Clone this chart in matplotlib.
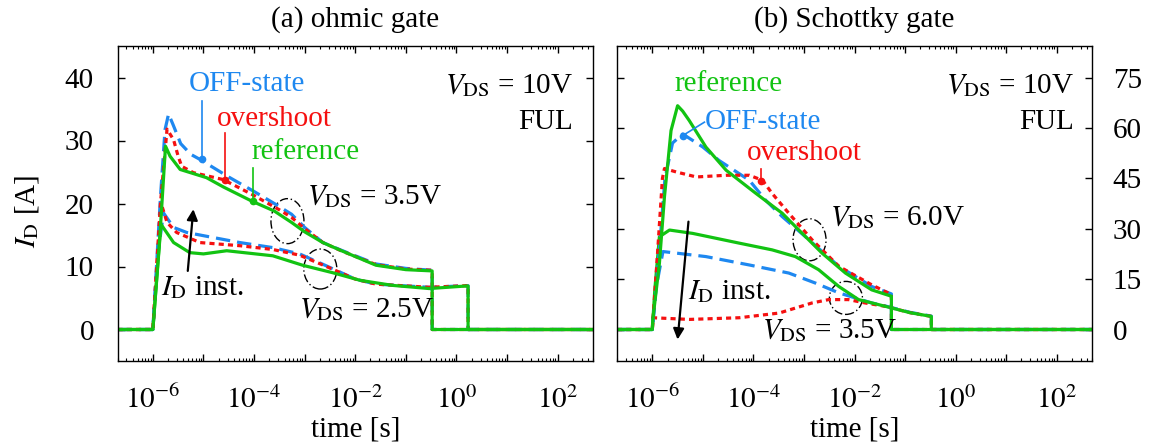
import numpy as np
import matplotlib
matplotlib.use("Agg")
import matplotlib.pyplot as plt
from matplotlib.patches import Ellipse
from matplotlib.transforms import ScaledTranslation
from matplotlib.ticker import FixedLocator, FuncFormatter, NullFormatter

plt.rcParams['font.family'] = ['Liberation Serif', 'DejaVu Serif']
plt.rcParams['mathtext.fontset'] = 'stix'
plt.rcParams['axes.linewidth'] = 1.0

# ---------------- data: log10(time [s]) and drain current ----------------
# (a) ohmic gate, V_DS = 3.5 V
a35_off_logt = [-6.7, -6.0, -5.85, -5.76, -5.69, -5.6, -5.45, -5.25, -5.07, -4.5, -4.02, -3.6, -3.26, -3.0, -2.64, -2.25, -1.59, -1.0, -0.48, -0.48, 2.7]
a35_off_id = [0, 0, 21, 31.7, 34.2, 32.5, 29.5, 27.8, 27.0, 24.2, 22.0, 20.0, 18.3, 16.2, 13.8, 12.5, 10.4, 9.7, 9.4, 0, 0]
a35_ovs_logt = [-6.7, -6.0, -5.85, -5.72, -5.59, -5.5, -5.43, -5.2, -4.61, -4.03, -3.5, -3.26, -3.0, -2.64, -2.25, -1.59, -1.0, -0.48, -0.48, 2.7]
a35_ovs_id = [0, 0, 20, 31.8, 30.1, 27.5, 25.9, 24.9, 23.8, 21.4, 19.0, 17.8, 16.0, 13.8, 12.4, 10.3, 9.6, 9.4, 0, 0]
a35_ref_logt = [-6.7, -6.0, -5.86, -5.75, -5.66, -5.46, -4.94, -4.6, -4.05, -3.6, -3.26, -3.0, -2.64, -2.3, -1.59, -1.0, -0.48, -0.48, 2.7]
a35_ref_id = [0, 0, 15, 29.1, 27.5, 25.4, 24.1, 22.6, 20.4, 18.8, 17.0, 15.5, 13.8, 12.6, 10.2, 9.5, 9.3, 0, 0]

# (a) ohmic gate, V_DS = 2.5 V
a25_off_logt = [-6.7, -6.0, -5.9, -5.79, -5.59, -5.33, -4.94, -4.28, -3.63, -3.1, -2.57, -2.0, -1.59, -0.54, 0.18, 0.23, 0.23, 2.7]
a25_off_id = [0, 0, 12, 18.5, 16.2, 15.4, 14.8, 13.8, 13.0, 12.0, 10.1, 8.0, 7.2, 6.7, 6.95, 6.95, 0, 0]
a25_ovs_logt = [-6.7, -6.0, -5.84, -5.72, -5.53, -5.07, -4.28, -3.63, -3.1, -2.57, -2.0, -1.59, -0.54, 0.18, 0.23, 0.23, 2.7]
a25_ovs_id = [0, 0, 20.1, 17.0, 15.4, 13.8, 13.3, 12.7, 11.8, 10.0, 8.0, 7.2, 6.7, 6.95, 6.95, 0, 0]
a25_ref_logt = [-6.7, -6.0, -5.84, -5.59, -5.27, -5.0, -4.54, -3.63, -3.04, -2.44, -1.9, -1.26, -0.54, 0.18, 0.23, 0.23, 2.7]
a25_ref_id = [0, 0, 16.7, 13.8, 12.2, 12.0, 12.5, 11.7, 10.2, 9.0, 7.8, 7.0, 6.5, 6.9, 6.9, 0, 0]

# (b) Schottky gate, V_DS = 6.0 V
b60_off_logt = [-6.7, -6.0, -5.88, -5.75, -5.6, -5.40, -5.0, -4.68, -4.08, -3.76, -3.43, -2.97, -2.31, -1.66, -1.27, -1.27, 2.7]
b60_off_id = [0, 0, 20, 45, 55.5, 58.2, 54.3, 50.3, 44.4, 38.5, 33.6, 27.6, 18.8, 12.8, 10.6, 0, 0]
b60_ovs_logt = [-6.7, -6.0, -5.9, -5.8, -5.76, -5.53, -5.13, -4.54, -4.08, -3.82, -3.63, -3.30, -2.84, -2.31, -1.66, -1.27, -1.27, 2.7]
b60_ovs_id = [0, 0, 22, 45, 47.9, 46.9, 45.4, 45.9, 45.9, 44.4, 40.5, 34.6, 26.7, 18.8, 13.3, 10.4, 0, 0]
b60_ref_logt = [-6.7, -6.0, -5.99, -5.86, -5.76, -5.63, -5.50, -5.40, -5.27, -4.94, -4.54, -3.95, -3.43, -3.10, -2.64, -2.18, -1.66, -1.27, -1.27, 2.7]
b60_ref_id = [0, 0, 3.0, 19.7, 39.5, 59.2, 66.6, 65.0, 62.2, 54.3, 47.4, 40.5, 34.6, 29.6, 22.7, 16.8, 11.8, 9.9, 0, 0]

# (b) Schottky gate, V_DS = 3.5 V
b35_off_logt = [-6.7, -6.0, -5.93, -5.79, -4.94, -4.08, -3.30, -2.77, -2.31, -1.66, -1.39, -0.9, -0.48, -0.48, 2.7]
b35_off_id = [0, 0, 12, 23.2, 21.7, 19.2, 16.8, 13.8, 10.9, 7.9, 7.0, 5.1, 4.0, 0, 0]
b35_ovs_logt = [-6.7, -6.0, -5.99, -5.27, -4.28, -3.49, -2.84, -2.51, -2.12, -1.79, -1.39, -0.9, -0.48, -0.48, 2.7]
b35_ovs_id = [0, 0, 3.5, 3.0, 3.5, 4.9, 7.9, 8.9, 8.9, 7.9, 6.9, 5.0, 3.9, 0, 0]
b35_ref_logt = [-6.7, -6.0, -5.95, -5.86, -5.66, -5.20, -4.28, -3.63, -3.17, -2.71, -2.31, -1.92, -1.39, -0.9, -0.48, -0.48, 2.7]
b35_ref_id = [0, 0, 12, 27.6, 29.6, 28.6, 25.7, 23.7, 21.7, 17.8, 12.8, 8.9, 6.9, 5.0, 3.9, 0, 0]

left_yticks = [0, 10, 20, 30, 40]
right_yticks = [0, 15, 30, 45, 60, 75]
panel_titles = ['(a) ohmic gate', '(b) Schottky gate']

# ---------------- styles ----------------
BLUE = '#1E88F0'
RED = '#F51010'
GREEN = '#12C312'
STY_OFF = dict(color=BLUE, lw=2.3, linestyle=(0, (4.5, 2.2)))
STY_OVS = dict(color=RED, lw=2.3, linestyle=(0, (1.6, 1.3)))
STY_REF = dict(color=GREEN, lw=2.3, linestyle='-')
FS = 21

W, H = 1159, 445
fig = plt.figure(figsize=(W / 100, H / 100), dpi=100)
ax_a = fig.add_axes([117.5 / W, 84 / H, 475.5 / W, 315 / H])
ax_b = fig.add_axes([617 / W, 84 / H, 475 / W, 315 / H])


def decade_label(v, pos):
    e = int(round(np.log10(v)))
    return r'$10^{%d}$' % e if e % 2 == 0 else ''


def style_axes(ax):
    ax.set_xscale('log')
    ax.set_xlim(2e-7, 500)
    ax.xaxis.set_major_locator(FixedLocator(10.0 ** np.arange(-6, 3)))
    minors = [k * 10.0 ** e for e in range(-7, 3) for k in range(2, 10)]
    ax.xaxis.set_minor_locator(FixedLocator(minors))
    ax.xaxis.set_major_formatter(FuncFormatter(decade_label))
    ax.xaxis.set_minor_formatter(NullFormatter())
    ax.tick_params(which='both', direction='in', top=True, right=True,
                   labelsize=21)
    ax.tick_params(which='major', length=5, width=1.0)
    ax.tick_params(which='minor', length=2.5, width=0.8)
    ax.tick_params(axis='x', which='major', pad=18)
    ax.text(0.5, -0.219, 'time [s]', transform=ax.transAxes, ha='center',
            va='center', fontsize=FS)


def curve(ax, logt, cur, sty):
    ax.plot(10.0 ** np.asarray(logt), cur, solid_capstyle='butt', **sty)


def pointer(ax, x0, y0, x1, y1, color):
    ax.plot([10.0 ** x0, 10.0 ** x1], [y0, y1], color=color, lw=1.2)
    ax.plot(10.0 ** x1, y1, 'o', color=color, ms=4.5)


def ring(ax, logt, cur, w_px, h_px):
    trans = fig.dpi_scale_trans + ScaledTranslation(10.0 ** logt, cur, ax.transData)
    ax.add_patch(Ellipse((0, 0), w_px / 100, h_px / 100, transform=trans,
                         fill=False, ec='k', lw=1.0, linestyle=(0, (6, 2, 1, 2))))


def arrow(ax, tail, head):
    ax.annotate('', xy=(10.0 ** head[0], head[1]), xytext=(10.0 ** tail[0], tail[1]),
                arrowprops=dict(arrowstyle='-|>', color='k', lw=1.6,
                                mutation_scale=16, shrinkA=0, shrinkB=0))


def put(ax, logt, cur, s, color='k', ha='left'):
    ax.text(10.0 ** logt, cur, s, color=color, ha=ha, va='baseline', fontsize=FS)


# ---------------- (a) ohmic gate ----------------
style_axes(ax_a)
ax_a.set_ylim(-5, 45)
ax_a.yaxis.set_major_locator(FixedLocator(left_yticks))
ax_a.tick_params(axis='y', pad=17)
for logt, cur, sty in [(a25_off_logt, a25_off_id, STY_OFF), (a25_ovs_logt, a25_ovs_id, STY_OVS),
                       (a25_ref_logt, a25_ref_id, STY_REF), (a35_off_logt, a35_off_id, STY_OFF),
                       (a35_ovs_logt, a35_ovs_id, STY_OVS), (a35_ref_logt, a35_ref_id, STY_REF)]:
    curve(ax_a, logt, cur, sty)

put(ax_a, -4.15, 37.8, 'OFF-state', BLUE, 'center')
put(ax_a, -3.59, 32.3, 'overshoot', RED, 'center')
put(ax_a, -2.99, 27.0, 'reference', GREEN, 'center')
pointer(ax_a, -5.035, 36.2, -5.035, 27.0, BLUE)
pointer(ax_a, -4.577, 31.2, -4.577, 23.8, RED)
pointer(ax_a, -4.03, 25.7, -4.03, 20.4, GREEN)
put(ax_a, -2.96, 19.9, r'$V_{\rm DS}$ = 3.5V')
put(ax_a, -3.11, 1.96, r'$V_{\rm DS}$ = 2.5V')
put(ax_a, -5.84, 5.4, r'$I_{\rm D}$ inst.')
arrow(ax_a, (-5.31, 9.3), (-5.20, 19.1))
ring(ax_a, -3.34, 17.2, 33, 45)
ring(ax_a, -2.69, 9.6, 33, 40)
ax_a.text(0.9586, 0.850, r'$V_{\rm DS}$ = 10V', transform=ax_a.transAxes,
          ha='right', va='baseline', fontsize=FS)
ax_a.text(0.9586, 0.7355, 'FUL', transform=ax_a.transAxes,
          ha='right', va='baseline', fontsize=FS)

# ---------------- (b) Schottky gate ----------------
style_axes(ax_b)
ax_b.set_ylim(-9.375, 84.375)
ax_b.yaxis.set_major_locator(FixedLocator(right_yticks))
ax_b.tick_params(axis='y', labelleft=False, labelright=True, pad=15)
for logt, cur, sty in [(b35_off_logt, b35_off_id, STY_OFF), (b35_ovs_logt, b35_ovs_id, STY_OVS),
                       (b35_ref_logt, b35_ref_id, STY_REF), (b60_off_logt, b60_off_id, STY_OFF),
                       (b60_ovs_logt, b60_ovs_id, STY_OVS), (b60_ref_logt, b60_ref_id, STY_REF)]:
    curve(ax_b, logt, cur, sty)

put(ax_b, -4.49, 71.1, 'reference', GREEN, 'center')
put(ax_b, -3.81, 59.7, 'OFF-state', BLUE, 'center')
put(ax_b, -3.0, 50.3, 'overshoot', RED, 'center')
pointer(ax_b, -4.97, 61.7, -5.40, 57.7, BLUE)
pointer(ax_b, -3.855, 47.9, -3.855, 44.2, RED)
put(ax_b, -2.48, 31.1, r'$V_{\rm DS}$ = 6.0V')
put(ax_b, -3.83, -2.5, r'$V_{\rm DS}$ = 3.5V')
put(ax_b, -5.30, 9.1, r'$I_{\rm D}$ inst.')
arrow(ax_b, (-5.285, 32.1), (-5.50, -3.0))
ring(ax_b, -2.89, 26.7, 33, 42)
ring(ax_b, -2.17, 9.4, 33, 33)
ax_b.text(0.962, 0.850, r'$V_{\rm DS}$ = 10V', transform=ax_b.transAxes,
          ha='right', va='baseline', fontsize=FS)
ax_b.text(0.962, 0.7355, 'FUL', transform=ax_b.transAxes,
          ha='right', va='baseline', fontsize=FS)

for ax, title in zip([ax_a, ax_b], panel_titles):
    ax.text(0.5, 1 + 26 / 315, title, transform=ax.transAxes, ha='center',
            va='center', fontsize=FS)

fig.text(27 / W, 1 - 211 / H, r'$I_{\rm D}$ [A]', rotation=90, ha='center',
         va='center', fontsize=FS)

fig.savefig('out.png', dpi=100)
